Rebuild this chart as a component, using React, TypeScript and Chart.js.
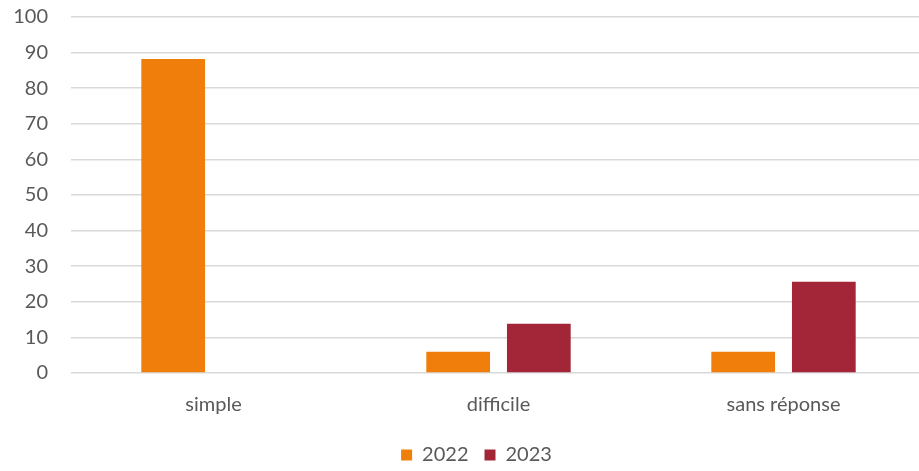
import React, { useEffect, useRef } from "react";
import { Chart, registerables } from "chart.js";

Chart.register(...registerables);

const categories = ["simple", "difficile", "sans réponse"];
const series2022 = [88.2, 6, 6];
const series2023 = [0, 13.8, 25.6];
const seriesLabels = ["2022", "2023"];
const yMin = 0;
const yMax = 100;
const yStep = 10;

const layoutTweak = {
  id: "layoutTweak",
  afterLayout(chart: any) {
    const lg = chart.legend;
    if (lg) {
      lg.left += 10;
      lg.right += 10;
    }
    const xs = chart.scales.x;
    if (xs) {
      xs.right += 7;
      xs.width += 7;
      xs.configure();
    }
  },
};

export default function App() {
  const ref = useRef<HTMLCanvasElement | null>(null);
  useEffect(() => {
    document.body.style.margin = "0";
    const ctx = ref.current!;
    const font = { family: "Lato, 'Open Sans', sans-serif", size: 20 };
    const chart = new Chart(ctx, {
      type: "bar",
      data: {
        labels: categories,
        datasets: [
          { label: seriesLabels[0], data: series2022, backgroundColor: "#EF7F0A", categoryPercentage: 0.566, barPercentage: 0.79 },
          { label: seriesLabels[1], data: series2023, backgroundColor: "#A32638", categoryPercentage: 0.566, barPercentage: 0.79 },
        ],
      },
      options: {
        animation: false,
        responsive: false,
        maintainAspectRatio: false,
        layout: { padding: { top: 17, right: 0, left: 14, bottom: -4 } },
        plugins: {
          tooltip: { enabled: false },
          legend: {
            position: "bottom",
            labels: { font, color: "#595959", boxWidth: 11, boxHeight: 11, padding: 16 },
          },
        },
        scales: {
          x: {
            grid: { display: false },
            border: { display: false },
            ticks: { font, color: "#595959", padding: 12 },
          },
          y: {
            min: yMin,
            max: yMax,
            afterFit: (s: any) => {
              s.width = 57;
              s.paddingTop = 0;
            },
            ticks: { stepSize: yStep, font, color: "#595959", padding: 23 },
            grid: { color: "#D9D9D9", lineWidth: 1.5, drawTicks: false },
            border: { display: false },
          },
        },
      },
      plugins: [layoutTweak],
    });
    return () => chart.destroy();
  }, []);
  return <canvas ref={ref} width={919} height={471} style={{ display: "block" }} />;
}
